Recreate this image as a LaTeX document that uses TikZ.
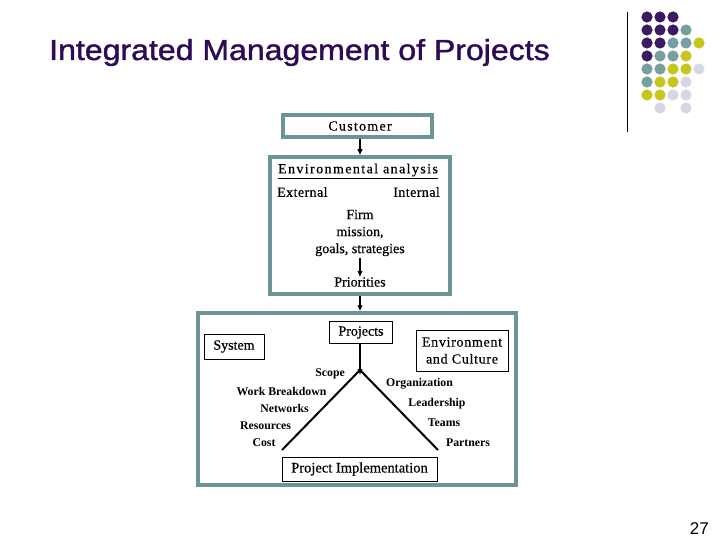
\documentclass[tikz,border=0pt]{standalone}
\usepackage{fontspec}
\setmainfont{Liberation Serif}
\newfontfamily\titlefont[FakeBold=1.3]{Liberation Sans}
\newfontfamily\numfont{Liberation Sans}
\newfontfamily\bodyfont[FakeBold=0.5]{Liberation Serif}
\usetikzlibrary{arrows.meta}
\definecolor{frame}{HTML}{6B9494}
\definecolor{dpurple}{HTML}{3A1A62}
\definecolor{tpurple}{HTML}{2E0C55}
\definecolor{dteal}{HTML}{76A0A0}
\definecolor{dyellow}{HTML}{C6C61E}
\definecolor{dlav}{HTML}{D6D6E6}
\tikzset{
  bigframe/.style={draw=frame, line width=3.5pt, inner sep=0pt},
  thinbox/.style={draw=black, line width=0.9pt, inner sep=0pt},
  txt/.style={inner sep=0pt, font=\bodyfont\fontsize{14}{17}\selectfont},
  small/.style={inner sep=0pt, font=\fontsize{11.8}{13}\selectfont\bfseries},
  arr/.style={line width=1.8pt, -{Latex[length=6pt,width=5.5pt]}},
  leg/.style={line width=2pt}
}
\begin{document}
\begin{tikzpicture}[x=1pt,y=-1pt]
\useasboundingbox (0,0) rectangle (720,540);
% title
\node[anchor=base west, inner sep=0pt, text=tpurple, xscale=1.105, transform shape,
      font=\titlefont\fontsize{29}{31}\selectfont] (title) at (49,60) {Integrated Management of Projects};
\node[anchor=base east, inner sep=0pt, font=\numfont\fontsize{17}{19}\selectfont] (page) at (709,534) {27};
% decoration
\draw[line width=1pt] (627,12) coordinate (vt) -- (627,132) coordinate (vb);
\foreach \i/\r in {0/0,1/0,2/0,0/1,1/1,2/1,0/2,1/2,0/3}
  \fill[dpurple] (647+13*\i,17+13*\r) circle (5.6);
\foreach \i/\r in {3/1,2/2,3/2,1/3,2/3,0/4,1/4,0/5}
  \fill[dteal] (647+13*\i,17+13*\r) circle (5.6);
\foreach \i/\r in {4/2,3/3,2/4,3/4,1/5,2/5,0/6,1/6}
  \fill[dyellow] (647+13*\i,17+13*\r) circle (5.6);
\foreach \i/\r in {4/4,3/5,2/6,3/6,1/7,3/7}
  \fill[dlav] (647+13*\i,17+13*\r) circle (5.6);
% frames
\node[bigframe, minimum width=149pt, minimum height=22pt] (cust) at (357.5,126) {};
\node[txt] (custt) at (360,126) {\addfontfeature{LetterSpace=9}Customer};
\node[bigframe, minimum width=180pt, minimum height=137pt] (env) at (360,225.5) {};
\node[bigframe, minimum width=318pt, minimum height=172pt] (big) at (357,399) {};
% environmental analysis
\node[txt] (ea) at (358,171) {\addfontfeature{LetterSpace=10}\underline{Environmental analysis}};
\node[txt, anchor=west] (ext) at (277,192) {\addfontfeature{LetterSpace=3}External};
\node[txt, anchor=east] (int) at (440,192) {\addfontfeature{LetterSpace=3}Internal};
\node[txt, align=center] (firm) at (360,233) {Firm\\mission,\\goals, strategies};
\node[txt] (prio) at (360,282) {Priorities};
% lower part
\node[thinbox, minimum width=63pt, minimum height=22pt, txt] (proj) at (361,332.5) {Projects};
\node[thinbox, minimum width=60pt, minimum height=25pt, txt] (sys) at (234,346.5) {System};
\node[thinbox, minimum width=92pt, minimum height=41pt, txt, align=center] (envc) at (462,350.5) {\addfontfeature{LetterSpace=5}Environment\\\addfontfeature{LetterSpace=5}and Culture};
\node[thinbox, minimum width=155pt, minimum height=24pt, txt] (impl) at (359.5,469) {\fontsize{14.5}{17}\selectfont Project Implementation};
\coordinate (apex) at (360,370);
\coordinate (lfoot) at (282,450);
\coordinate (rfoot) at (438,450);
\draw[leg] (lfoot) -- (apex) -- (rfoot);
% labels
\node[small, anchor=east] (scope) at (345,374) {Scope};
\node[small] (wbs) at (281.5,391) {Work Breakdown};
\node[small] (net) at (284.5,408) {Networks};
\node[small] (res) at (265.5,426) {Resources};
\node[small] (cost) at (264,442.5) {Cost};
\node[small] (org) at (419.5,383.5) {Organization};
\node[small] (lead) at (437,403.5) {Leadership};
\node[small] (teams) at (444,423) {Teams};
\node[small] (part) at (468,443) {Partners};
% arrows
\draw[arr] (cust.south -| custt) -- (custt |- env.north);
\draw[arr] ([yshift=-2pt]firm.south) -- (firm.south |- prio.north);
\draw[arr] (env.south) -- (env.south |- big.north);
\draw[arr] (apex |- proj.south) -- ([yshift=-5pt]apex);
\end{tikzpicture}
\end{document}
